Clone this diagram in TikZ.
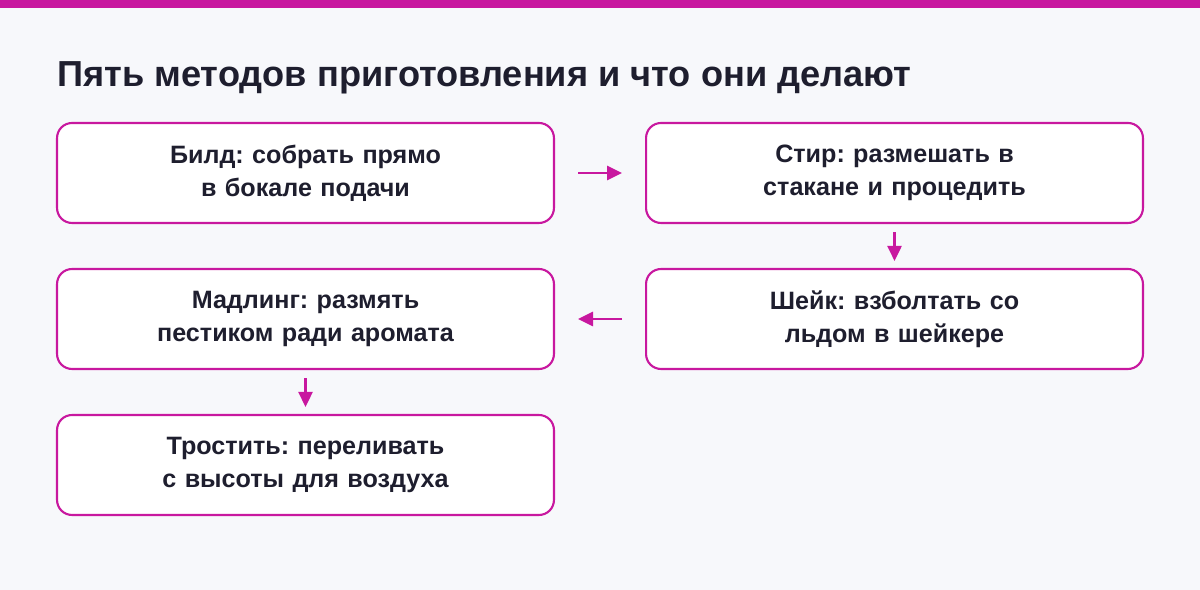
\documentclass[tikz,border=0pt]{standalone}
\usepackage{fontspec}
\setmainfont{Liberation Sans}
\frenchspacing
\usetikzlibrary{positioning,arrows.meta}
\definecolor{bgcol}{HTML}{F7F8FB}
\definecolor{magcol}{HTML}{C8189F}
\definecolor{inkcol}{HTML}{1E1E2E}
\tikzset{
  method/.style={draw=magcol, line width=1.2pt, rounded corners=0.3cm, fill=white,
    minimum width=9.94cm, minimum height=2cm, text width=8.9cm, align=center,
    font=\fontsize{14.3}{19}\selectfont\bfseries, text=inkcol},
  flow/.style={-{Triangle[length=0.3cm,width=0.28cm]}, draw=magcol, line width=1.5pt}
}
\begin{document}
\begin{tikzpicture}[x=0.02cm, y=-0.02cm]
  \useasboundingbox (0,0) rectangle (1200,590);
  \fill[bgcol] (0,0) rectangle (1200,590);
  \fill[magcol] (0,0) rectangle (1200,8);
  \node[anchor=west, inner sep=0pt, text=inkcol, font=\fontsize{20.6}{24}\selectfont\bfseries] (title) at (57,78) {Пять методов приготовления и что они делают};

  \node[method] (build) at (305.5,173) {Билд: собрать прямо в бокале подачи};
  \node[method] (stir) at (894.5,173) {Стир: размешать в стакане и процедить};
  \node[method] (shake) at (894.5,319) {Шейк: взболтать со льдом в шейкере};
  \node[method] (muddle) at (305.5,319) {Мадлинг: размять пестиком ради аромата};
  \node[method] (throw) at (305.5,465) {Тростить: переливать с высоты для воздуха};

  \draw[flow] ([xshift=0.46cm]build.east) -- ([xshift=-0.46cm]stir.west);
  \draw[flow] ([yshift=-0.16cm]stir.south) -- ([yshift=0.14cm]shake.north);
  \draw[flow] ([xshift=-0.46cm]shake.west) -- ([xshift=0.46cm]muddle.east);
  \draw[flow] ([yshift=-0.16cm]muddle.south) -- ([yshift=0.14cm]throw.north);
\end{tikzpicture}
\end{document}
